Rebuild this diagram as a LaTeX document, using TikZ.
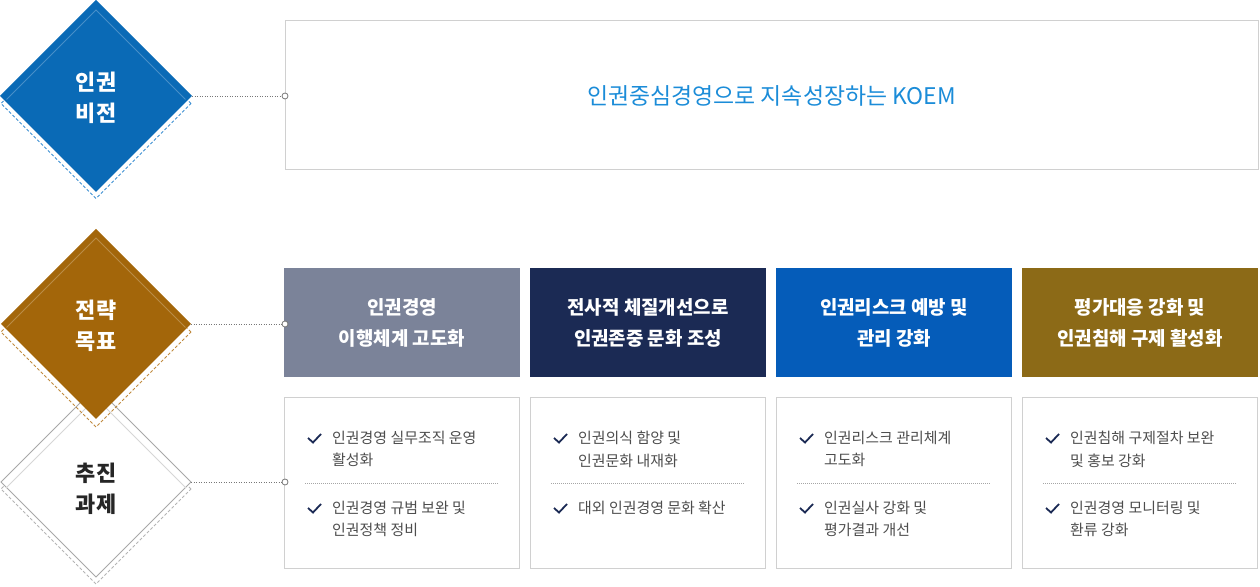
\documentclass[tikz,border=0pt]{standalone}
\usepackage{fontspec}
\setmainfont{Noto Sans CJK KR}
\usepackage{tikz}
\usetikzlibrary{shapes.geometric}
\definecolor{visionblue}{HTML}{0A6AB6}
\definecolor{visiondash}{HTML}{3C8FD2}
\definecolor{goalbrown}{HTML}{A3660A}
\definecolor{goaldash}{HTML}{C08A3E}
\definecolor{taskline}{HTML}{A8A8A8}
\definecolor{taskinner}{HTML}{D6D6D6}
\definecolor{taskdash}{HTML}{B4B4B4}
\definecolor{headslate}{HTML}{7B8399}
\definecolor{headnavy}{HTML}{1B2A54}
\definecolor{headblue}{HTML}{055CB9}
\definecolor{headolive}{HTML}{8C6A17}
\definecolor{koemblue}{HTML}{1B8CD8}
\definecolor{tickblue}{HTML}{1B2A54}
\definecolor{itemgray}{HTML}{4D4D4D}
\definecolor{boxgray}{HTML}{D0D0D0}
\definecolor{linkgray}{HTML}{777777}

\begin{document}
\begin{tikzpicture}[line join=miter,
  kite/.style={diamond, aspect=1, inner sep=0pt, outer sep=0pt, minimum size=#1},
  kitedash/.style={draw=#1, line width=1bp, dash pattern=on 3bp off 2bp},
  kitetext/.style={align=center, inner sep=0pt, font=\fontsize{22}{31}\selectfont\bfseries},
  headbox/.style={rectangle, fill=#1, text=white, minimum width=236bp, minimum height=109bp,
    inner sep=0pt, align=center, font=\fontsize{19}{31}\selectfont\bfseries},
  bodybox/.style={rectangle, draw=boxgray, fill=white, line width=1bp, minimum width=235bp,
    minimum height=171bp, inner sep=0pt},
  item/.style={anchor=north west, align=left, inner sep=0pt, text=itemgray,
    font=\fontsize{15}{22.5}\selectfont},
  tick/.style={draw=tickblue, line width=1.8bp},
  divider/.style={draw=boxgray!80!black, line width=0.8bp, dash pattern=on 0.8bp off 1.2bp},
  link/.style={draw=linkgray, line width=0.9bp, dash pattern=on 1bp off 1.5bp},
  pin/.style={circle, draw=linkgray, fill=white, line width=0.8bp, inner sep=0pt, minimum size=6bp}]
\useasboundingbox (0,0) rectangle (1260bp,587bp);
%%
  % Node: task diamond
  \node (taskDash) [kite=190bp, kitedash=taskdash] at (96bp,98bp) {};
  \node (task) [kite=190bp, draw=taskline, fill=white, line width=1bp] at (96bp,105bp) {};
  \node (taskIn) [kite=180bp] at (96bp,99bp) {};
  \draw [taskinner, line width=1bp] (taskIn.west) -- (taskIn.north) -- (taskIn.east);
  \node (taskText) [kitetext, text=black!85] at (96bp,98bp) {추진\\과제};
  % Node: goal diamond
  \node (goalDash) [kite=190bp, kitedash=goaldash] at (96bp,255bp) {};
  \node (goal) [kite=190bp, fill=goalbrown] at (96bp,263bp) {};
  \node (goalIn) [kite=179bp] at (96bp,259.5bp) {};
  \draw [white, draw opacity=0.25, line width=1bp] (goalIn.west) -- (goalIn.north) -- (goalIn.east);
  \node (goalText) [kitetext, text=white] at (96bp,261bp) {전략\\목표};
  % Node: vision diamond
  \node (visionDash) [kite=190bp, kitedash=visiondash] at (96bp,483.5bp) {};
  \node (vision) [kite=192bp, fill=visionblue] at (96bp,491bp) {};
  \node (visionIn) [kite=179bp] at (96bp,487.5bp) {};
  \draw [white, draw opacity=0.25, line width=1bp] (visionIn.west) -- (visionIn.north) -- (visionIn.east);
  \node (visionText) [kitetext, text=white] at (96bp,489.5bp) {인권\\비전};

  % Node: vision box
  \node (visionBox) [rectangle, draw=boxgray, line width=1bp, minimum width=973bp, minimum height=149bp,
    text=koemblue, font=\fontsize{23}{27}\selectfont] at (771.5bp,491.5bp) {인권중심경영으로 지속성장하는 KOEM};

  % Node: goal headers
  \node (headA) [headbox=headslate] at (402bp,264.5bp) {인권경영\\이행체계 고도화};
  \node (headB) [headbox=headnavy] at (648bp,264.5bp) {전사적 체질개선으로\\인권존중 문화 조성};
  \node (headC) [headbox=headblue] at (894bp,264.5bp) {인권리스크 예방 및\\관리 강화};
  \node (headD) [headbox=headolive] at (1140bp,264.5bp) {평가대응 강화 및\\인권침해 구제 활성화};

  % Node: task boxes
  \node (bodyA) [bodybox] at (402bp,104bp) {};
  \node (bodyB) [bodybox] at (648bp,104bp) {};
  \node (bodyC) [bodybox] at (894bp,104bp) {};
  \node (bodyD) [bodybox] at (1140bp,104bp) {};
  \draw [divider] ([xshift=21bp]bodyA.west) -- ([xshift=-22bp]bodyA.east);
  \draw [divider] ([xshift=21bp]bodyB.west) -- ([xshift=-22bp]bodyB.east);
  \draw [divider] ([xshift=21bp]bodyC.west) -- ([xshift=-22bp]bodyC.east);
  \draw [divider] ([xshift=21bp]bodyD.west) -- ([xshift=-22bp]bodyD.east);

  % Node: task items
  \node (itemA1) [item] at (332bp,156bp) {인권경영 실무조직 운영\\활성화};
  \node (itemA2) [item] at (332bp,86bp) {인권경영 규범 보완 및\\인권정책 정비};
  \node (itemB1) [item] at (578bp,156bp) {인권의식 함양 및\\인권문화 내재화};
  \node (itemB2) [item] at (578bp,86bp) {대외 인권경영 문화 확산};
  \node (itemC1) [item] at (824bp,156bp) {인권리스크 관리체계\\고도화};
  \node (itemC2) [item] at (824bp,86bp) {인권실사 강화 및\\평가결과 개선};
  \node (itemD1) [item] at (1070bp,156bp) {인권침해 구제절차 보완\\및 홍보 강화};
  \node (itemD2) [item] at (1070bp,86bp) {인권경영 모니터링 및\\환류 강화};
  \draw [tick] ([xshift=-24bp,yshift=-7bp]itemA1.north west) -- ++(5bp,-4.5bp) -- ++(8bp,8.5bp);
  \draw [tick] ([xshift=-24bp,yshift=-7bp]itemA2.north west) -- ++(5bp,-4.5bp) -- ++(8bp,8.5bp);
  \draw [tick] ([xshift=-24bp,yshift=-7bp]itemB1.north west) -- ++(5bp,-4.5bp) -- ++(8bp,8.5bp);
  \draw [tick] ([xshift=-24bp,yshift=-7bp]itemB2.north west) -- ++(5bp,-4.5bp) -- ++(8bp,8.5bp);
  \draw [tick] ([xshift=-24bp,yshift=-7bp]itemC1.north west) -- ++(5bp,-4.5bp) -- ++(8bp,8.5bp);
  \draw [tick] ([xshift=-24bp,yshift=-7bp]itemC2.north west) -- ++(5bp,-4.5bp) -- ++(8bp,8.5bp);
  \draw [tick] ([xshift=-24bp,yshift=-7bp]itemD1.north west) -- ++(5bp,-4.5bp) -- ++(8bp,8.5bp);
  \draw [tick] ([xshift=-24bp,yshift=-7bp]itemD2.north west) -- ++(5bp,-4.5bp) -- ++(8bp,8.5bp);

  % Edge: diamonds -> boxes
  \node (pinVision) [pin] at (285bp,491bp) {};
  \node (pinGoal) [pin] at (285bp,263bp) {};
  \node (pinTask) [pin] at (285bp,105bp) {};
  \draw [link] (vision.east) -- (pinVision.west);
  \draw [link] (goal.east) -- (pinGoal.west);
  \draw [link] (task.east) -- (pinTask.west);
%
\end{tikzpicture}
\end{document}
